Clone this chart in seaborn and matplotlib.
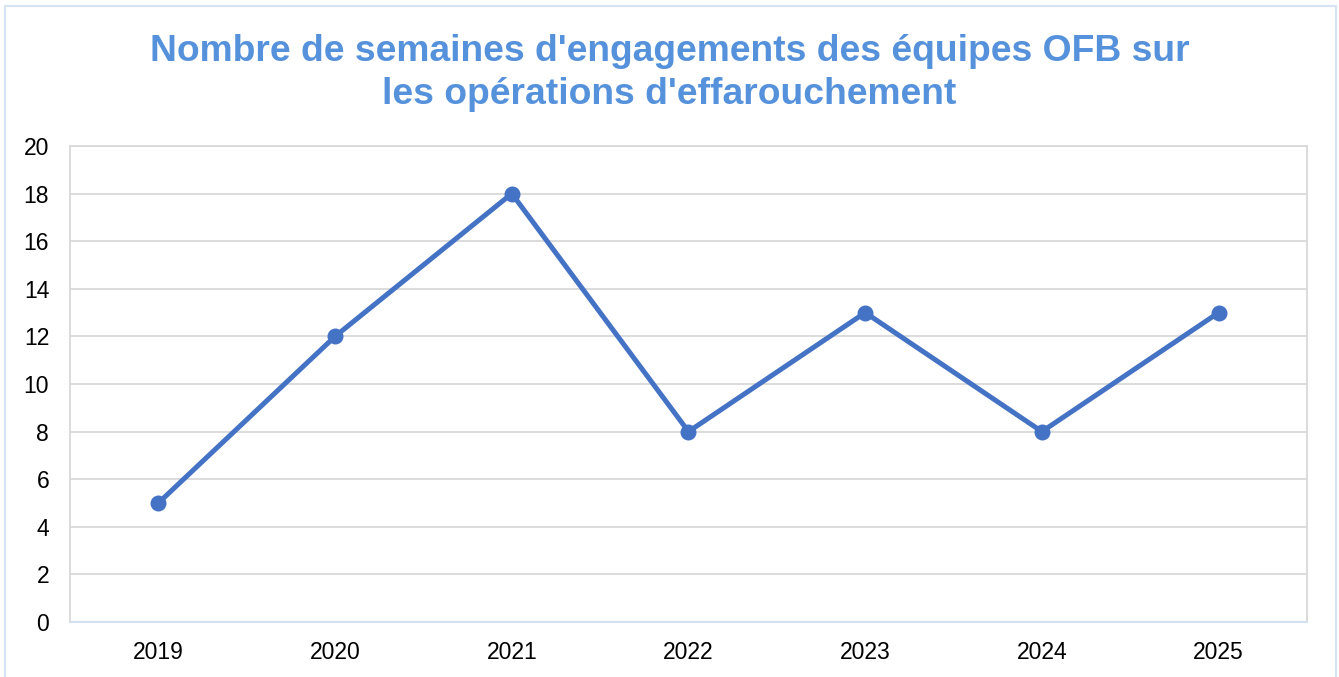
import matplotlib
matplotlib.use("Agg")
import matplotlib.pyplot as plt
import seaborn as sns
import pandas as pd
from matplotlib.patches import Rectangle

# ==========================================================
# Data
# ==========================================================

annees = ["2019", "2020", "2021", "2022", "2023", "2024", "2025"]
semaines = [5, 12, 18, 8, 13, 8, 13]
y_ticks = [0, 2, 4, 6, 8, 10, 12, 14, 16, 18, 20]

titre = "Nombre de semaines d'engagements des équipes OFB sur\nles opérations d'effarouchement"

df = pd.DataFrame({"annee": annees, "semaines": semaines})

# ==========================================================
# Plot
# ==========================================================

sns.set_style("white")
plt.rcParams["font.family"] = ["Liberation Sans", "DejaVu Sans"]

fig = plt.figure(figsize=(13.39, 6.77), dpi=100)
ax = fig.add_axes([70 / 1339, 55 / 677, 1237 / 1339, 476 / 677])

sns.lineplot(
    data=df,
    x="annee",
    y="semaines",
    color="#4472C4",
    linewidth=3.6,
    marker="o",
    markersize=11.5,
    markeredgewidth=0,
    ax=ax,
    zorder=3
)

ax.set_xlim(-0.5, len(annees) - 0.5)
ax.set_ylim(0, 20)
ax.set_yticks(y_ticks)
ax.grid(axis="y", color="#d9d9d9", linewidth=1.3)
ax.set_axisbelow(True)

for side in ["left", "right", "top"]:
    ax.spines[side].set_color("#d9d9d9")
    ax.spines[side].set_linewidth(1.3)
ax.spines["bottom"].set_color("#d3e0f2")
ax.spines["bottom"].set_linewidth(1.5)

ax.tick_params(axis="both", length=0, labelsize=16.5, colors="black")
ax.tick_params(axis="x", pad=14)
ax.tick_params(axis="y", pad=15)
ax.set_xlabel("")
ax.set_ylabel("")

fig.text(
    0.5, 1 - 73 / 677, titre,
    ha="center", va="center",
    fontsize=26.8, fontweight="bold",
    color="#5592DB", linespacing=1.3
)

# outer frame
fig.patches.append(Rectangle(
    (5 / 1339, -0.05), 1331 / 1339, 1.05 - 6 / 677,
    transform=fig.transFigure, fill=False,
    edgecolor="#d6e3f5", linewidth=1.5, clip_on=False
))

fig.savefig("out.png", dpi=100)
